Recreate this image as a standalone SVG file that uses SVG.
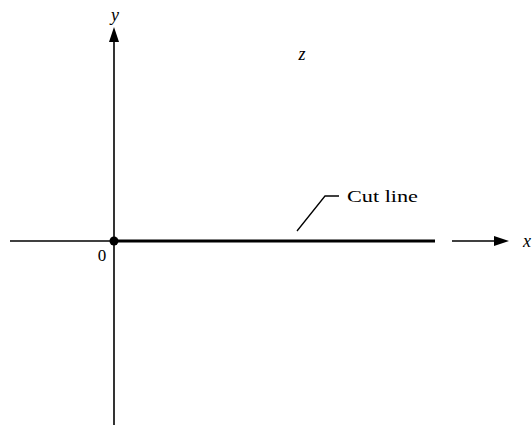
<svg xmlns="http://www.w3.org/2000/svg" width="532" height="429" viewBox="0 0 532 429">
<style>
.ax{stroke:#000;stroke-width:1.6;fill:none}
.thick{stroke:#000;stroke-width:3;fill:none}
.lead{stroke:#000;stroke-width:1.3;fill:none}
.var{font-family:"Liberation Serif","DejaVu Serif",serif;font-style:italic;font-size:18px;fill:#000}
.lbl{font-family:"Liberation Serif","DejaVu Serif",serif;font-size:17px;fill:#000}
</style>
<defs>
<marker id="ah" markerWidth="10" markerHeight="10" refX="9" refY="5" orient="auto" markerUnits="userSpaceOnUse">
<path d="M0,0 L10,5 L0,10 Z" fill="#000"/>
</marker>
</defs>
<rect width="532" height="429" fill="#fff"/>
<g id="connectors">
<line class="ax" x1="114" y1="425" x2="114" y2="32"/>
<path d="M114,27 L109,42 L119,42 Z" fill="#000"/>
<line class="ax" x1="10" y1="241" x2="114" y2="241"/>
<line class="thick" x1="114" y1="241" x2="435" y2="241"/>
<line class="ax" x1="452" y1="241" x2="500" y2="241"/>
<path d="M509,241 L494,236 L494,246 Z" fill="#000"/>
<polyline class="lead" points="297,231 325,196 339,196"/>
</g>
<g id="origin">
<circle cx="114" cy="241" r="4.5" fill="#000"/>
<text class="lbl" x="102" y="261" text-anchor="middle">0</text>
</g>
<g id="label-y"><text class="var" x="115" y="21" text-anchor="middle">y</text></g>
<g id="label-x"><text class="var" x="527" y="247" text-anchor="middle">x</text></g>
<g id="label-z"><text class="var" x="302" y="60" text-anchor="middle">z</text></g>
<g id="cutline-label"><text class="lbl" x="347" y="202" textLength="71" lengthAdjust="spacingAndGlyphs">Cut line</text></g>
</svg>
